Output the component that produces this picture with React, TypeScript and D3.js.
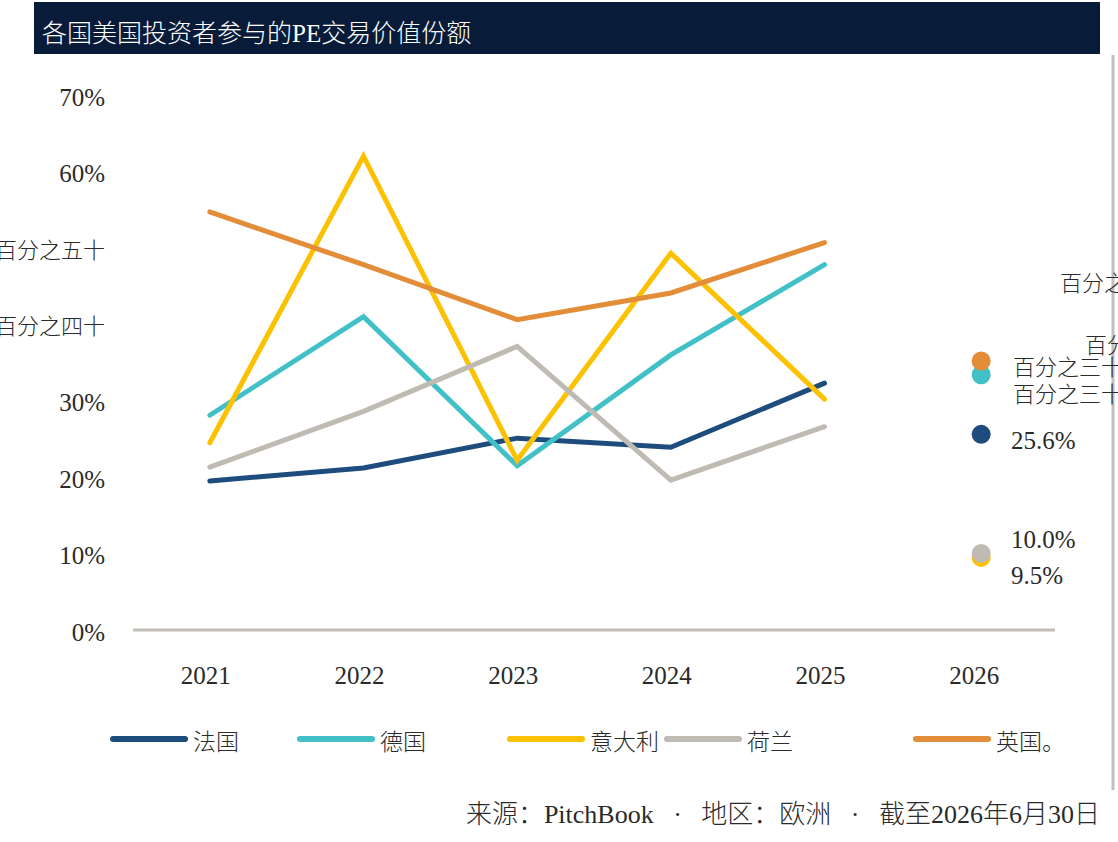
import React from "react";
import * as d3 from "d3";

const years = ["2021", "2022", "2023", "2024", "2025", "2026"];
const seriesNames = ["法国", "德国", "意大利", "荷兰", "英国。"];
const franceVals = [19.5, 21.2, 25.1, 23.9, 32.3];
const germanyVals = [28.1, 41.0, 21.5, 36.0, 47.8];
const italyVals = [24.5, 62.0, 22.2, 49.3, 30.2];
const netherlandsVals = [21.3, 28.6, 37.1, 19.6, 26.6];
const ukVals = [54.7, 47.8, 40.6, 44.1, 50.7];
const latestVals = [25.6, 33.4, 9.5, 10.0, 35.2];
const latestLabels = ["25.6%", "百分之三十三", "9.5%", "10.0%", "百分之三十五"];
const yTicks = [0, 10, 20, 30, 40, 50, 60, 70];
const yTickLabels = ["0%", "10%", "20%", "30%", "百分之四十", "百分之五十", "60%", "70%"];
const extraLabels = ["百分之四十五", "百分之三十七"];
const titleText = "各国美国投资者参与的PE交易价值份额";
const sourceText = "来源：PitchBook   ·   地区：欧洲   ·   截至2026年6月30日";

const colors = ["#1e4d7d", "#41c0c8", "#fcc100", "#bfbbb3", "#e38d38"];
const FONT = "'Liberation Serif', 'Noto Sans CJK SC', serif";
const TXT = "#2a2a2a";

const isCjk = (s: string) => /[\u4e00-\u9fff]/.test(s);

export default function App() {
  const W = 1118, H = 842;
  const x = d3.scalePoint<string>().domain(years).range([133, 1055]).padding(0.5);
  const y = d3.scaleLinear().domain([0, 70]).range([630, 95]);
  const allSeries = [franceVals, germanyVals, italyVals, netherlandsVals, ukVals];
  const line = d3.line<number>().x((_, i) => x(years[i]) as number).y((v) => y(v));
  const dotX = (x("2026") as number) + 3;
  const legendX = [113, 300, 510, 667, 916];
  const labelDy = [6, 20, 18, -14, 6];

  return (
    <svg width={W} height={H} style={{ position: "absolute", left: 0, top: 0, fontFamily: FONT }}>
      <rect x={34} y={2} width={1066} height={52} fill="#081c3a" />
      <text x={42} y={42} fill="#ffffff" fontSize={25} fontWeight={300}>{titleText}</text>
      <line x1={1113} x2={1113} y1={55} y2={790} stroke="#c3bfb8" strokeWidth={3} />

      {yTicks.map((t, i) => (
        <text key={t} x={105} y={y(t) + 2} dy="0.35em" textAnchor="end"
          fontSize={isCjk(yTickLabels[i]) ? 22 : 25} fill={TXT} fontWeight={300}>
          {yTickLabels[i]}
        </text>
      ))}
      <line x1={133} x2={1055} y1={y(0)} y2={y(0)} stroke="#c3bfb8" strokeWidth={3} />
      {years.map((yr) => (
        <text key={yr} x={(x(yr) as number) - 4} y={675} dy="0.35em" textAnchor="middle" fontSize={25} fill={TXT}>
          {yr}
        </text>
      ))}

      {allSeries.map((vals, i) => (
        <path key={i} d={line(vals) || ""} fill="none" stroke={colors[i]} strokeWidth={5} strokeLinecap="round" />
      ))}

      {latestVals.map((v, i) => (
        <circle key={i} cx={dotX} cy={y(v)} r={9.5} fill={colors[i]} />
      ))}
      {latestLabels.map((lab, i) => (
        <text key={i} x={isCjk(lab) ? 1013 : 1011} y={y(latestVals[i]) + labelDy[i]} dy="0.35em"
          fontSize={isCjk(lab) ? 22 : 25} fill={TXT} fontWeight={300}>
          {lab}
        </text>
      ))}
      <text x={1060} y={283} dy="0.35em" fontSize={22} fill={TXT} fontWeight={300}>{extraLabels[0]}</text>
      <text x={1085} y={345} dy="0.35em" fontSize={22} fill={TXT} fontWeight={300}>{extraLabels[1]}</text>

      {seriesNames.map((n, i) => (
        <g key={n}>
          <line x1={legendX[i]} x2={legendX[i] + 72} y1={739} y2={739} stroke={colors[i]} strokeWidth={6} strokeLinecap="round" />
          <text x={legendX[i] + 80} y={742} dy="0.35em" fontSize={23} fill={TXT} fontWeight={300}>{n}</text>
        </g>
      ))}

      <text x={1100} y={814} dy="0.35em" textAnchor="end" fontSize={26} fill={TXT} fontWeight={300}
        style={{ whiteSpace: "pre" }}>{sourceText}</text>
    </svg>
  );
}
